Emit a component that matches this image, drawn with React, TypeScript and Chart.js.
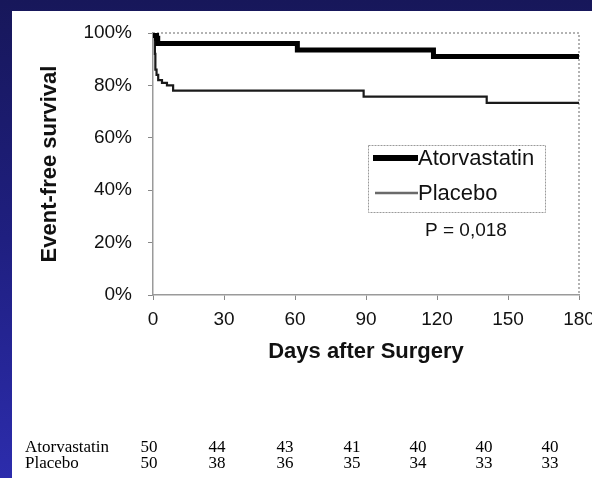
import React, { useEffect, useRef } from "react";
import { Chart, registerables } from "chart.js";
Chart.register(...registerables);

// ---- data ----
const atorvastatinDays = [0, 0.5, 1.5, 2, 61, 118.5, 180];
const atorvastatinSurvival = [100, 99, 98, 96, 93.5, 91, 91];
const placeboDays = [0, 0.8, 1, 1.5, 2.2, 3.8, 5.9, 8.5, 89, 141, 180];
const placeboSurvival = [100, 92, 86, 84, 82, 81, 80, 78, 75.7, 73.3, 73.3];
const xTicks = [0, 30, 60, 90, 120, 150, 180];
const yTicks = [0, 20, 40, 60, 80, 100];
const seriesNames = ["Atorvastatin", "Placebo"];
const atorvastatinAtRisk = [50, 44, 43, 41, 40, 40, 40];
const placeboAtRisk = [50, 38, 36, 35, 34, 33, 33];
const pValueText = "P = 0,018";
const xTitle = "Days after Surgery";
const yTitle = "Event-free survival";

const SANS = "'Liberation Sans', Arial, Helvetica, sans-serif";
const SERIF = "'Liberation Serif', 'Times New Roman', serif";

const framePlugin = {
  id: "frame",
  beforeDatasetsDraw(chart: any) {
    const { ctx, chartArea: a } = chart;
    ctx.save();
    ctx.strokeStyle = "#9a9a9a";
    ctx.lineWidth = 1.5;
    ctx.setLineDash([2, 2]);
    ctx.beginPath();
    ctx.moveTo(a.left, a.top);
    ctx.lineTo(a.right, a.top);
    ctx.lineTo(a.right, a.bottom);
    ctx.stroke();
    ctx.restore();
  },
};

const legendPlugin = {
  id: "customLegend",
  afterDraw(chart: any) {
    const { ctx } = chart;
    const ds = chart.data.datasets;
    ctx.save();
    ctx.fillStyle = "#fff";
    ctx.fillRect(368, 145, 177, 67);
    ctx.strokeStyle = "#9a9a9a";
    ctx.lineWidth = 1;
    ctx.setLineDash([2, 1]);
    ctx.strokeRect(368.5, 145.5, 177, 67);
    ctx.setLineDash([]);
    const rows = [
      { y: 158, color: "#000", width: 6, x0: 373 },
      { y: 193, color: "#6a6a6a", width: 2.5, x0: 375 },
    ];
    rows.forEach((r, i) => {
      ctx.strokeStyle = r.color;
      ctx.lineWidth = r.width;
      ctx.beginPath();
      ctx.moveTo(r.x0, r.y);
      ctx.lineTo(418, r.y);
      ctx.stroke();
      ctx.fillStyle = "#111";
      ctx.font = `22px ${SANS}`;
      ctx.textAlign = "left";
      ctx.textBaseline = "middle";
      ctx.fillText(ds[i].label, 418, r.y + 1);
    });
    ctx.font = `19px ${SANS}`;
    ctx.fillText(pValueText, 425, 231);
    ctx.restore();
  },
};

function App() {
  const ref = useRef<HTMLCanvasElement | null>(null);
  useEffect(() => {
    if (!ref.current) return;
    const chart = new Chart(ref.current, {
      type: "line",
      data: {
        datasets: [
          {
            label: seriesNames[0],
            data: atorvastatinDays.map((d, i) => ({ x: d, y: atorvastatinSurvival[i] })),
            borderColor: "#000",
            borderWidth: 5,
            stepped: "before",
            pointRadius: 0,
            fill: false,
            borderCapStyle: "butt",
            borderJoinStyle: "miter",
          },
          {
            label: seriesNames[1],
            data: placeboDays.map((d, i) => ({ x: d, y: placeboSurvival[i] })),
            borderColor: "#1a1a1a",
            borderWidth: 2.2,
            stepped: "before",
            pointRadius: 0,
            fill: false,
            borderJoinStyle: "miter",
          },
        ],
      },
      options: {
        animation: false,
        responsive: false,
        layout: { padding: { left: 0, top: 33, right: 13, bottom: 103 } },
        plugins: { legend: { display: false }, tooltip: { enabled: false } },
        scales: {
          x: {
            type: "linear",
            min: 0,
            max: 180,
            afterBuildTicks: (s: any) => {
              s.ticks = xTicks.map((v) => ({ value: v }));
            },
            afterFit: (s: any) => {
              s.height = 80;
              s.paddingRight = 0;
            },
            ticks: { font: { size: 19, family: SANS }, color: "#111", padding: 8, maxRotation: 0 },
            grid: { drawOnChartArea: false, drawTicks: true, tickLength: 5, color: "#888" },
            border: { display: true, color: "#9a9a9a", width: 1.5, dash: [2, 2] },
            title: {
              display: true,
              text: xTitle,
              color: "#111",
              font: { size: 22, weight: "bold", family: SANS },
              padding: { top: 0, bottom: 10 },
            },
          },
          y: {
            type: "linear",
            min: 0,
            max: 100,
            afterBuildTicks: (s: any) => {
              s.ticks = yTicks.map((v) => ({ value: v }));
            },
            afterFit: (s: any) => {
              s.width = 153;
            },
            ticks: {
              font: { size: 19, family: SANS },
              color: "#111",
              padding: 16,
              callback: (v: any) => v + "%",
            },
            grid: { drawOnChartArea: false, drawTicks: true, tickLength: 5, color: "#888" },
            border: { display: true, color: "#9a9a9a", width: 1.5, dash: [2, 2] },
            title: {
              display: true,
              text: yTitle,
              color: "#111",
              font: { size: 22, weight: "bold", family: SANS },
              padding: { top: 37, bottom: 0 },
            },
          },
        },
      },
      plugins: [framePlugin, legendPlugin],
    } as any);
    return () => chart.destroy();
  }, []);

  const colX = [149, 217, 285, 352, 418, 484, 550];
  const rowStyle = (y: number): React.CSSProperties => ({
    position: "absolute",
    top: y,
    left: 0,
    width: 592,
    height: 18,
    font: `17px ${SERIF}`,
    color: "#000",
  });
  const renderRow = (name: string, vals: number[], y: number) => (
    <div style={rowStyle(y)}>
      <span style={{ position: "absolute", left: 25, top: 0, lineHeight: "18px" }}>{name}</span>
      {vals.map((v, i) => (
        <span
          key={i}
          style={{ position: "absolute", left: colX[i] - 20, width: 40, textAlign: "center", top: 0, lineHeight: "18px" }}
        >
          {v}
        </span>
      ))}
    </div>
  );

  return (
    <div
      style={{
        position: "absolute",
        left: 0,
        top: 0,
        width: 592,
        height: 478,
        overflow: "hidden",
        background: "linear-gradient(180deg, #17175a 0%, #1f1f80 50%, #2c2cac 100%)",
      }}
    >
      <div style={{ position: "absolute", left: 12, top: 11, right: 0, bottom: 0, background: "#fff" }} />
      <canvas ref={ref} width={592} height={478} style={{ position: "absolute", left: 0, top: 0, width: 592, height: 478 }} />
      {renderRow(seriesNames[0], atorvastatinAtRisk, 438)}
      {renderRow(seriesNames[1], placeboAtRisk, 454)}
    </div>
  );
}

export default App;
